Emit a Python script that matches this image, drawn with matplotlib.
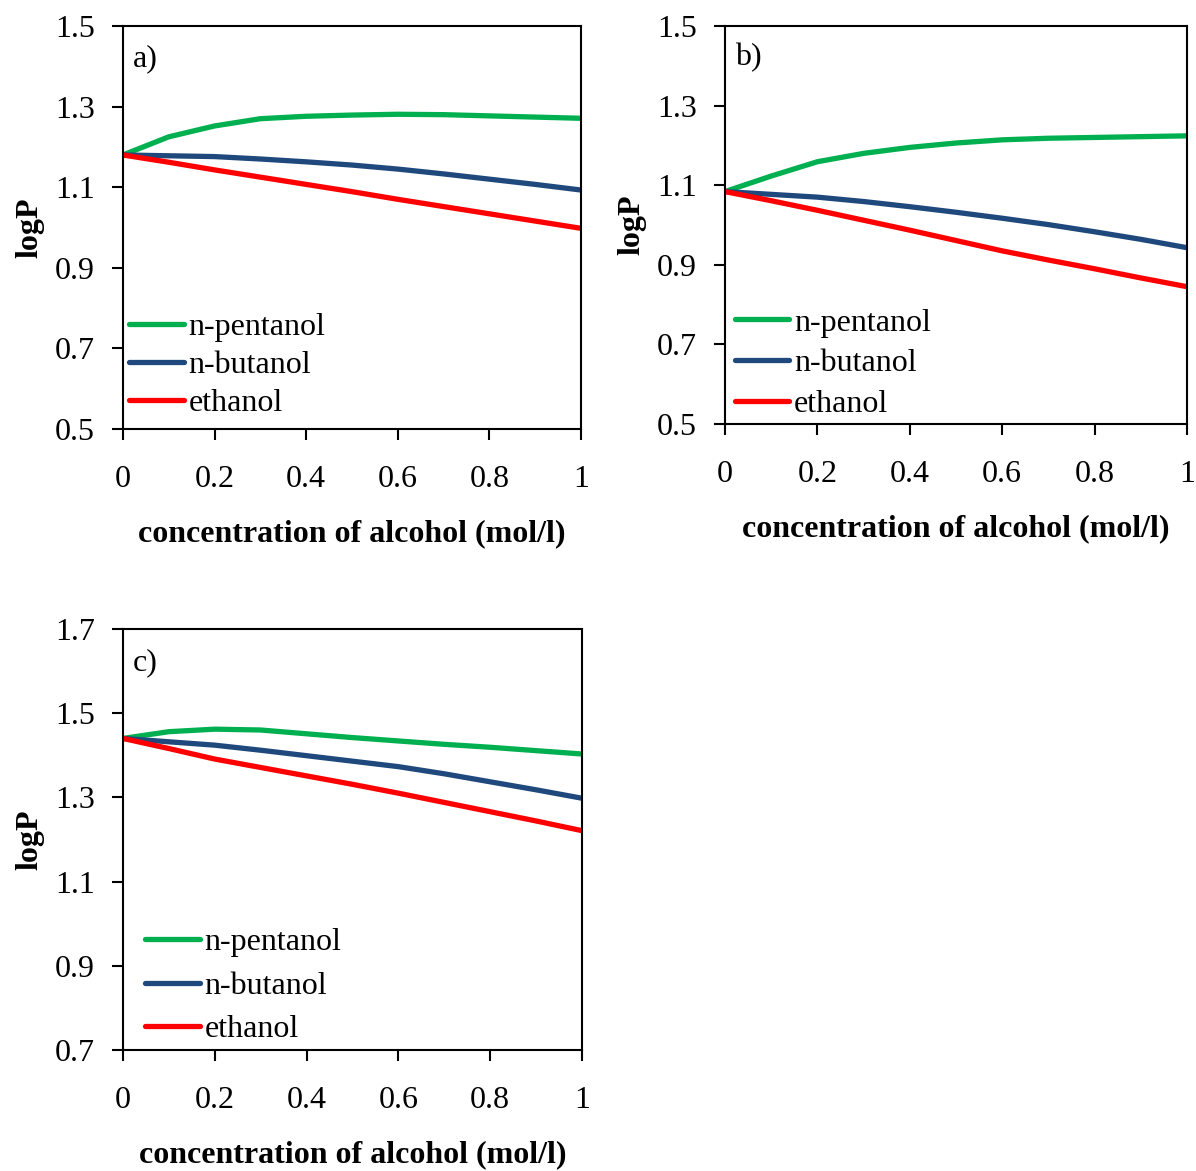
import numpy as np
import matplotlib.pyplot as plt

plt.rcParams['font.family'] = ['Liberation Serif', 'DejaVu Serif']

# concentration of alcohol (mol/l)
conc = [0, 0.1, 0.2, 0.3, 0.4, 0.5, 0.6, 0.7, 0.8, 0.9, 1.0]

# panel a)
a_pentanol = [1.18, 1.225, 1.252, 1.270, 1.276, 1.279, 1.281, 1.280, 1.277, 1.274, 1.271]
a_butanol = [1.18, 1.178, 1.176, 1.170, 1.163, 1.155, 1.145, 1.133, 1.120, 1.107, 1.093]
a_ethanol = [1.18, 1.162, 1.143, 1.125, 1.107, 1.089, 1.070, 1.052, 1.034, 1.016, 0.998]

# panel b)
b_pentanol = [1.084, 1.123, 1.159, 1.180, 1.195, 1.206, 1.214, 1.218, 1.220, 1.222, 1.224]
b_butanol = [1.084, 1.077, 1.070, 1.059, 1.046, 1.032, 1.017, 1.001, 0.983, 0.964, 0.943]
b_ethanol = [1.084, 1.061, 1.037, 1.012, 0.987, 0.961, 0.935, 0.912, 0.890, 0.867, 0.845]

# panel c)
c_pentanol = [1.440, 1.456, 1.462, 1.460, 1.451, 1.442, 1.434, 1.426, 1.419, 1.411, 1.403]
c_butanol = [1.440, 1.432, 1.424, 1.412, 1.399, 1.386, 1.373, 1.356, 1.337, 1.318, 1.298]
c_ethanol = [1.440, 1.416, 1.391, 1.371, 1.351, 1.331, 1.310, 1.288, 1.266, 1.244, 1.221]

x_ticks = [0, 0.2, 0.4, 0.6, 0.8, 1]
x_ticklabels = ['0', '0.2', '0.4', '0.6', '0.8', '1']
names = ['n-pentanol', 'n-butanol', 'ethanol']
colors = ['#00B050', '#1F497D', '#FF0000']

fig = plt.figure(figsize=(11.96, 11.71), dpi=100)

# label, axes rect, series, y range, y ticks, legend anchor, legend spacing
panels = [
    ('a)', [0.1028, 0.6336, 0.3830, 0.3442], (a_pentanol, a_butanol, a_ethanol),
     (0.5, 1.5), [0.5, 0.7, 0.9, 1.1, 1.3, 1.5], (0.0, 0.012), 0.26),
    ('b)', [0.6062, 0.6379, 0.3863, 0.3399], (b_pentanol, b_butanol, b_ethanol),
     (0.5, 1.5), [0.5, 0.7, 0.9, 1.1, 1.3, 1.5], (0.008, -0.004), 0.36),
    ('c)', [0.1028, 0.1033, 0.3838, 0.3596], (c_pentanol, c_butanol, c_ethanol),
     (0.7, 1.7), [0.7, 0.9, 1.1, 1.3, 1.5, 1.7], (0.035, -0.002), 0.45),
]

for label, rect, series, ylim, yticks, anchor, spacing in panels:
    ax = fig.add_axes(rect)
    for vals, name, col in zip(series, names, colors):
        ax.plot(conc, vals, color=col, lw=3.8, label=name, solid_capstyle='round')
    ax.set_xlim(0, 1)
    ax.set_ylim(*ylim)
    ax.set_xticks(x_ticks)
    ax.set_xticklabels(x_ticklabels)
    ax.set_yticks(yticks)
    ax.set_yticklabels(['%.1f' % v for v in yticks])
    ax.tick_params(axis='x', direction='out', length=8, width=1.5, pad=18, labelsize=23)
    ax.tick_params(axis='y', direction='out', length=8, width=1.5, pad=12, labelsize=23)
    for sp in ax.spines.values():
        sp.set_linewidth(1.5)
    ax.set_xlabel('concentration of alcohol (mol/l)', fontsize=23, fontweight='bold', labelpad=18)
    ax.set_ylabel('logP', fontsize=23, fontweight='bold', labelpad=8)
    ax.text(0.022, 0.92, label, transform=ax.transAxes, fontsize=23, va='center', ha='left')
    ax.legend(loc='lower left', bbox_to_anchor=anchor, frameon=False, fontsize=23,
              handlelength=1.7, handletextpad=0.15, labelspacing=spacing, borderpad=0.2,
              borderaxespad=0)

fig.savefig('out.png', dpi=100)
